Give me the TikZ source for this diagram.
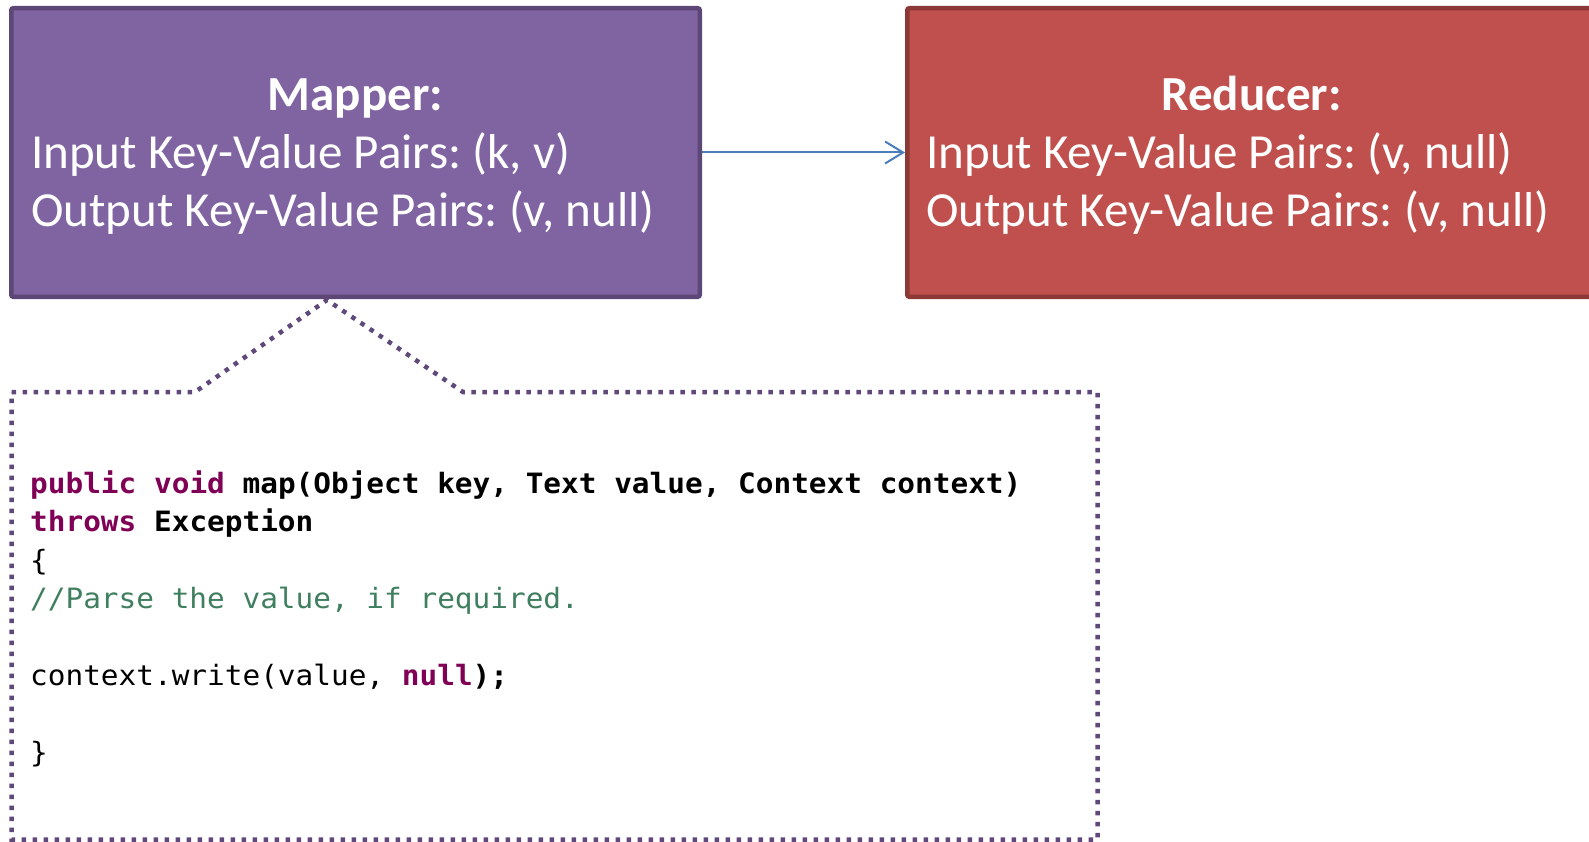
\documentclass[tikz,border=0pt]{standalone}
\usepackage{fontspec}
\setmainfont{Carlito}
\newfontfamily\codefont[FakeStretch=1.05]{DejaVu Sans Mono}
\usetikzlibrary{arrows.meta}
\definecolor{mapfill}{HTML}{8064A2}
\definecolor{mapline}{HTML}{5C4776}
\definecolor{redfill}{HTML}{C0504D}
\definecolor{redline}{HTML}{8C3836}
\definecolor{arrowblue}{HTML}{4A7EBB}
\definecolor{calloutline}{HTML}{5F497A}
\definecolor{kwpurple}{HTML}{7F0055}
\definecolor{cmgreen}{HTML}{3F7F5F}
\newcommand\kw[1]{\textbf{\color{kwpurple}#1}}
\newcommand\cm[1]{{\color{cmgreen}#1}}
\frenchspacing

\begin{document}
\begin{tikzpicture}[x=1pt,y=-1pt,
  box/.style={draw, line width=4.5pt, rounded corners=2pt,
    minimum width=688.5pt, minimum height=288.5pt, inner sep=0pt},
  boxtext/.style={text=white, inner sep=0pt, font=\fontsize{49}{58}\selectfont},
  code/.style={inner sep=0pt, anchor=base west, font=\codefont\fontsize{28}{38.5}\selectfont},
  callout/.style={draw=calloutline, line width=4.5pt, dash pattern=on 4.5pt off 6.5pt},
  link/.style={draw=arrowblue, line width=2pt,
    -{Straight Barb[length=18pt,width=22pt,line width=2pt]}}
]
\clip (0,0) rectangle (1589,842);

% the two processing stages
\node[box, draw=mapline, fill=mapfill] (mapper) at (355.5,152.5) {};
\node[box, draw=redline, fill=redfill] (reducer) at (1251.5,152.5) {};

\node[boxtext, anchor=base] (maptitle) at (355.5,111) {\bfseries Mapper:};
\node[boxtext, anchor=base west] (mapin) at (31,169) {Input Key-Value Pairs: (k, v)};
\node[boxtext, anchor=base west] (mapout) at (31,226.5) {Output Key-Value Pairs: (v, null)};

\node[boxtext, anchor=base] (redtitle) at (1251.5,111) {\bfseries Reducer:};
\node[boxtext, anchor=base west] (redin) at (926,169) {Input Key-Value Pairs: (v, null)};
\node[boxtext, anchor=base west] (redout) at (926,226.5) {Output Key-Value Pairs: (v, null)};

\draw[link] (mapper.east) -- (reducer.west);

% dotted callout pointing up at the mapper
\coordinate (tip) at (327,300);
\coordinate (tl) at (11.5,392);
\coordinate (tr) at (1097.5,392);
\coordinate (br) at (1097.5,839.5);
\coordinate (bl) at (11.5,839.5);
\draw[callout] (tl) -- (195,392) -- (tip) -- (463,392) -- (tr) -- (br) -- (bl) -- cycle;

% map() source listing
\node[code] (c1) at (30,493) {\kw{public} \kw{void} \textbf{map(Object key, Text value, Context context)}};
\node[code] (c2) at (30,531.5) {\kw{throws} \textbf{Exception}};
\node[code] (c3) at (30,570) {\{};
\node[code] (c4) at (30,608.5) {\cm{//Parse the value, if required.}};
\node[code] (c5) at (30,685.5) {context.write(value, \kw{null}\textbf{);}};
\node[code] (c6) at (30,762.5) {\}};
\end{tikzpicture}
\end{document}
